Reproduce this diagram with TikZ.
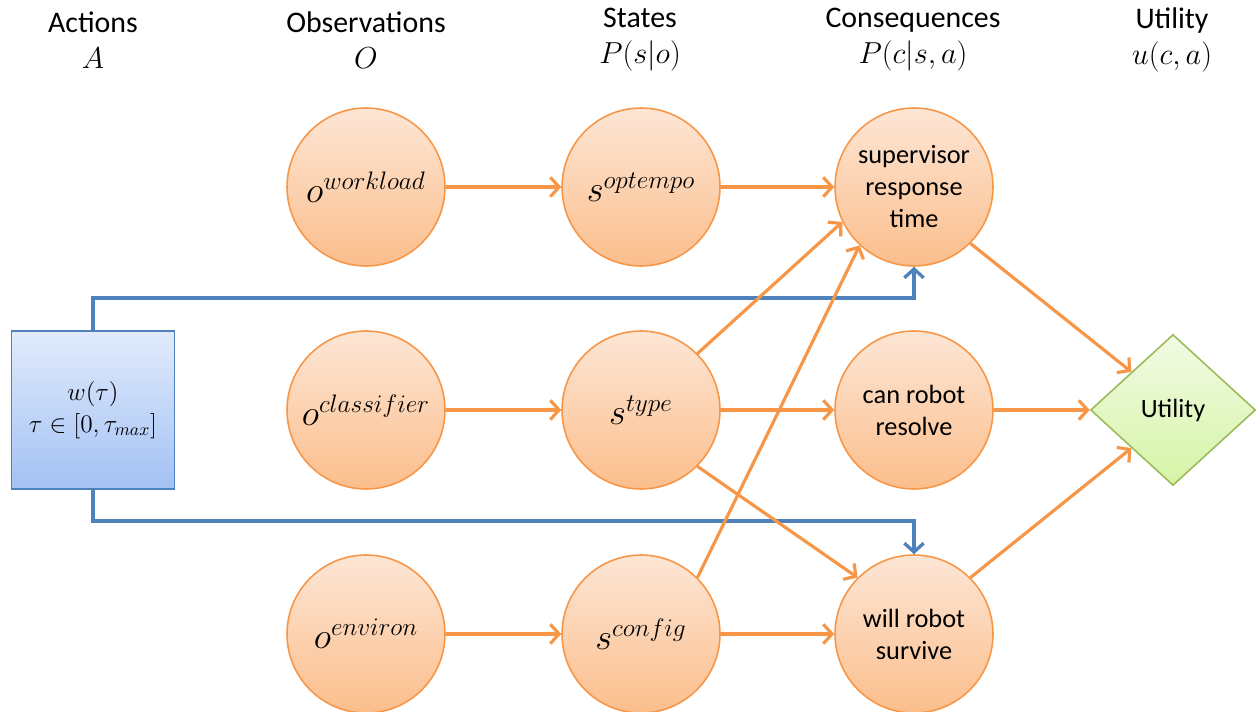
\documentclass[tikz,border=0pt]{standalone}
\usepackage{fontspec}
\setmainfont{Carlito}
\usetikzlibrary{shapes.geometric,arrows.meta}
\definecolor{org}{HTML}{F79646}
\definecolor{cTop}{HTML}{FDE6D5}
\definecolor{cBot}{HTML}{FBBE8C}
\definecolor{blu}{HTML}{4F81BD}
\definecolor{bTop}{HTML}{E1EBFC}
\definecolor{bBot}{HTML}{A3C1F4}
\definecolor{grn}{HTML}{9BBB59}
\definecolor{gTop}{HTML}{F2FBE4}
\definecolor{gBot}{HTML}{D5F4A6}
\begin{document}
\begin{tikzpicture}[x=0.02cm,y=-0.02cm,
  circ/.style={circle, draw=org, line width=0.9pt, top color=cTop, bottom color=cBot,
    minimum size=3.16cm, inner sep=0pt, align=center, font=\fontsize{15}{18.2}\selectfont},
  mlab/.style={font=\fontsize{20}{24}\selectfont},
  hdr/.style={align=center, font=\fontsize{17}{20.5}\selectfont},
  actbox/.style={rectangle, draw=blu, line width=0.9pt, top color=bTop, bottom color=bBot,
    minimum width=3.26cm, minimum height=3.16cm, inner sep=0pt, align=center,
    font=\fontsize{14}{18}\selectfont},
  utl/.style={diamond, draw=grn, line width=0.9pt, top color=gTop, bottom color=gBot,
    minimum width=3.3cm, minimum height=3.02cm, inner sep=0pt, font=\fontsize{15}{18}\selectfont},
  oarr/.style={draw=org, line width=1.8pt, -{Straight Barb[length=5pt,width=11pt]}},
  barr/.style={draw=blu, line width=1.9pt, -{Straight Barb[length=5pt,width=11pt]}}
]
\useasboundingbox (0,0) rectangle (1256,712);

% headers
\node[hdr] (hA) at (93,40) {Actions\\$A$};
\node[hdr] (hO) at (366,40) {Observations\\$O$};
\node[hdr] (hS) at (640,40) {States\\$P(s|o)$};
\node[hdr] (hC) at (913,40) {Consequences\\$P(c|s,a)$};
\node[hdr] (hU) at (1172,40) {Utility\\$u(c,a)$};

% nodes
\node[circ] (ow) at (366,187) {};
\node[mlab] (owl) at (366,187) {$o^{workload}$};
\node[circ] (sop) at (641,187) {};
\node[mlab] (sopl) at (641,187) {$s^{optempo}$};
\node[circ] (sup) at (914,187) {supervisor\\response\\time};

\node[circ] (oc) at (366,410) {};
\node[mlab] (ocl) at (366,410) {$o^{classifier}$};
\node[circ] (st) at (641,410) {};
\node[mlab] (stl) at (641,410) {$s^{type}$};
\node[circ] (cr) at (914,410) {can robot\\resolve};

\node[circ] (oe) at (366,634) {};
\node[mlab] (oel) at (366,634) {$o^{environ}$};
\node[circ] (sc) at (641,634) {};
\node[mlab] (scl) at (641,634) {$s^{config}$};
\node[circ] (wr) at (914,634) {will robot\\survive};

\node[actbox] (box) at (93,410) {$w(\tau)$\\$\tau\in[0,\tau_{max}]$};
\node[utl] (ut) at (1173,410) {Utility};

\coordinate (t1) at (93,298);
\coordinate (t2) at (93,521);

% blue connectors
\draw[barr] (box.north) -- (t1) -| (sup.south);
\draw[barr] (box.south) -- (t2) -| (wr.north);

% orange connectors
\draw[oarr] (ow.east) -- (sop.west);
\draw[oarr] (sop.east) -- (sup.west);
\draw[oarr] (oc.east) -- (st.west);
\draw[oarr] (st.east) -- (cr.west);
\draw[oarr] (oe.east) -- (sc.west);
\draw[oarr] (sc.east) -- (wr.west);
\draw[oarr] (st.45) -- (sup.206);
\draw[oarr] (st.-45) -- (wr.135);
\draw[oarr] (sc.45) -- (sup.227);
\draw[oarr] (sup.-45) -- (ut.north west);
\draw[oarr] (cr.east) -- (ut.west);
\draw[oarr] (wr.45) -- (ut.south west);
\end{tikzpicture}
\end{document}
